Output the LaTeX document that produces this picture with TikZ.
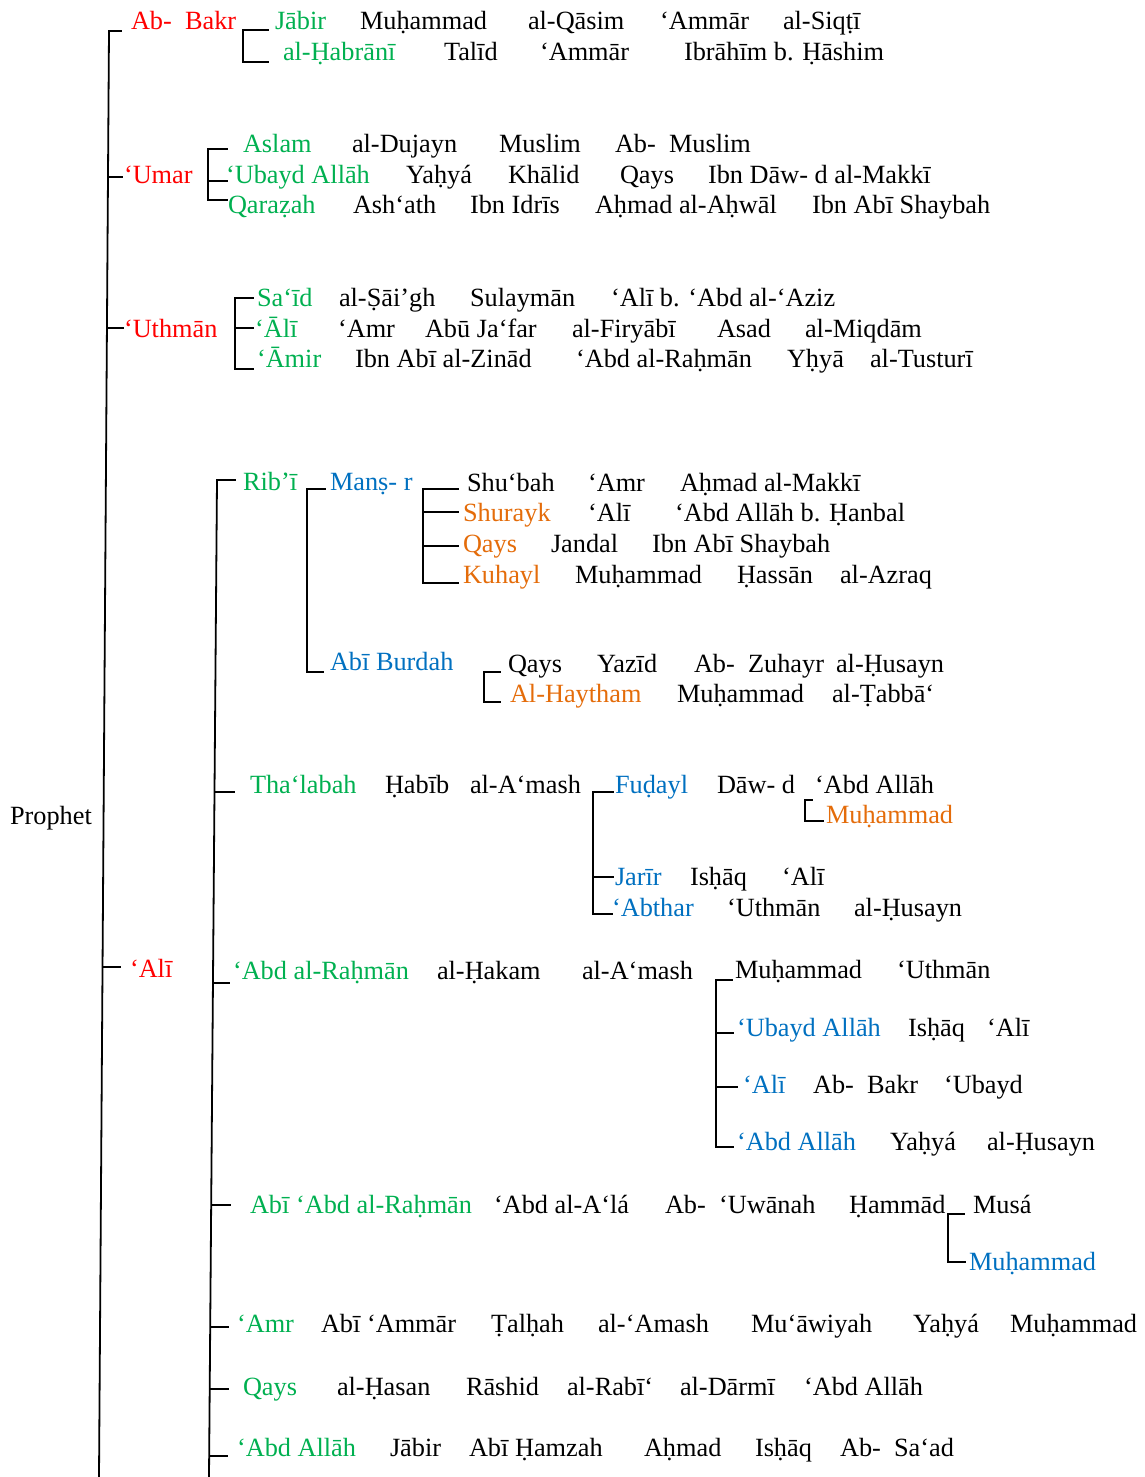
\documentclass[tikz,border=0pt]{standalone}
\usepackage{fontspec}
\setmainfont{Liberation Serif}
\definecolor{cred}{RGB}{255,0,0}
\definecolor{cgreen}{RGB}{0,176,80}
\definecolor{cblue}{RGB}{0,112,192}
\definecolor{corange}{RGB}{228,108,10}
\newcommand\trow[2]{\foreach \px/\lab in {#2}{\node[txt] (n-#1-\px) at (\px,#1) {\lab};}}
\begin{document}
\begin{tikzpicture}[x=1pt,y=-1pt,
  txt/.style={anchor=base west,inner sep=0pt,outer sep=0pt,font=\fontsize{26.3}{30}\selectfont},
  rn/.style={text=cred},
  gn/.style={text=cgreen},
  bn/.style={text=cblue},
  on/.style={text=corange},
  ln/.style={line width=1.8pt,line cap=rect}]
\useasboundingbox (0,0) rectangle (1145,1477);
% main trunk
\coordinate (mtop) at (109,31);
\coordinate (mbot) at (99,1477);
\draw[ln] (mtop) -- (mbot);
\node[txt] (prophet) at (10,824) {Prophet};
% ---------------- Abu Bakr
\draw[ln] (mtop) -- (121,31);
\node[txt,rn] (abubakr) at (131,30) {Ab-\ \ Bakr};
\draw[ln] (268,30) -- (243,30) -- (243,62) -- (268,62);
\node[txt,gn] (jabir) at (275,30) {Jābir};
\trow{30}{360/Muḥammad, 528/al-Qāsim, 660/‘Ammār, 783/al-Siqṭī}
\node[txt,gn] (habrani) at (283,61) {al-Ḥabrānī};
\trow{61}{444/Talīd, 540/‘Ammār, 684/Ibrāhīm b. Ḥāshim}
% ---------------- Umar
\draw[ln] (108,177) -- (122,177);
\node[txt,rn] (umar) at (124,183) {‘Umar};
\draw[ln] (227,149) -- (208,149) -- (208,200) -- (227,200);
\draw[ln] (208,181) -- (227,181);
\node[txt,gn] (aslam) at (243,153) {Aslam};
\trow{153}{352/al-Dujayn, 499/Muslim, 615/Ab-\ \ Muslim}
\node[txt,gn] (ubayd) at (226,183) {‘Ubayd Allāh};
\trow{183}{406/Yaḥyá, 508/Khālid, 620/Qays, 708/Ibn Dāw- d al-Makkī}
\node[txt,gn] (qarazah) at (228,213) {Qaraẓah};
\trow{213}{353/Ash‘ath, 470/Ibn Idrīs, 595/Aḥmad al-Aḥwāl, 812/Ibn Abī Shaybah}
% ---------------- Uthman
\draw[ln] (108,328) -- (123,328);
\node[txt,rn] (uthman) at (124,337) {‘Uthmān};
\draw[ln] (253,298) -- (235,298) -- (235,369) -- (253,369);
\draw[ln] (235,328) -- (253,328);
\node[txt,gn] (said) at (257,306) {Sa‘īd};
\trow{306}{339/al-Ṣāi’gh, 470/Sulaymān, 611/‘Alī b. ‘Abd al-‘Aziz}
\node[txt,gn] (ali2) at (255,337) {‘Ālī};
\trow{337}{338/‘Amr, 425/Abū Ja‘far, 572/al-Firyābī, 717/Asad, 805/al-Miqdām}
\node[txt,gn] (amir) at (257,367) {‘Āmir};
\trow{367}{355/Ibn Abī al-Zinād, 576/‘Abd al-Raḥmān, 787/Yḥyā, 870/al-Tusturī}
% ---------------- Ali
\draw[ln] (102.5,967) -- (120,967);
\node[txt,rn] (ali) at (130,977) {‘Alī};
\coordinate (itop) at (217,480);
\coordinate (ibot) at (209,1477);
\draw[ln] (235,480) -- (itop) -- (ibot);
% Rib'i
\node[txt,gn] (ribi) at (243,490) {Rib’ī};
\draw[ln] (325,489) -- (307,489) -- (307,672) -- (323,672);
\node[txt,bn] (mansur) at (330,490) {Manṣ- r};
\node[txt,bn] (burdah) at (330,670) {Abī Burdah};
\draw[ln] (458,489) -- (423,489) -- (423,583) -- (458,583);
\draw[ln] (423,512) -- (458,512);
\draw[ln] (423,546) -- (458,546);
\trow{491}{467/Shu‘bah, 588/‘Amr, 680/Aḥmad al-Makkī}
\node[txt,on] (shurayk) at (463,521) {Shurayk};
\trow{521}{588/‘Alī, 675/‘Abd Allāh b. Ḥanbal}
\node[txt,on] (qays2) at (463,552) {Qays};
\trow{552}{551/Jandal, 652/Ibn Abī Shaybah}
\node[txt,on] (kuhayl) at (463,583) {Kuhayl};
\trow{583}{575/Muḥammad, 737/Ḥassān, 840/al-Azraq}
\draw[ln] (500,672) -- (484,672) -- (484,702) -- (500,702);
\trow{672}{508/Qays, 597/Yazīd, 694/Ab-\ \ Zuhayr, 836/al-Ḥusayn}
\node[txt,on] (haytham) at (510,702) {Al-Haytham};
\trow{702}{677/Muḥammad, 832/al-Ṭabbā‘}
% Tha'labah
\draw[ln] (216,792) -- (234,792);
\node[txt,gn] (thalabah) at (250,793) {Tha‘labah};
\trow{793}{385/Ḥabīb, 470/al-A‘mash}
\draw[ln] (613,792) -- (593,792) -- (593,914) -- (612,914);
\draw[ln] (593,877) -- (613,877);
\node[txt,bn] (fudayl) at (615,793) {Fuḍayl};
\trow{793}{717/Dāw- d, 815/‘Abd Allāh}
\draw[ln] (812,800) -- (805,800) -- (805,821) -- (823,821);
\node[txt,on] (muh1) at (826,823) {Muḥammad};
\node[txt,bn] (jarir) at (615,885) {Jarīr};
\trow{885}{690/Isḥāq, 782/‘Alī}
\node[txt,bn] (abthar) at (612,916) {‘Abthar};
\trow{916}{727/‘Uthmān, 854/al-Ḥusayn}
% 'Abd al-Rahman
\draw[ln] (214,983) -- (229,983);
\node[txt,gn] (abdrahman) at (233,979) {‘Abd al-Raḥmān};
\trow{979}{437/al-Ḥakam, 582/al-A‘mash}
\draw[ln] (732,980) -- (716,980) -- (716,1147) -- (733,1147);
\draw[ln] (716,1033) -- (733,1033);
\draw[ln] (716,1087) -- (737,1087);
\trow{978}{735/Muḥammad, 897/‘Uthmān}
\node[txt,bn] (ubayd2) at (737,1036) {‘Ubayd Allāh};
\trow{1036}{908/Isḥāq, 987/‘Alī}
\node[txt,bn] (ali3) at (743,1093) {‘Alī};
\trow{1093}{813/Ab-\ \ Bakr, 944/‘Ubayd}
\node[txt,bn] (abdallah2) at (737,1150) {‘Abd Allāh};
\trow{1150}{890/Yaḥyá, 987/al-Ḥusayn}
% Abi 'Abd al-Rahman
\draw[ln] (212,1205) -- (230,1205);
\node[txt,gn] (abiabd) at (250,1213) {Abī ‘Abd al-Raḥmān};
\trow{1213}{494/‘Abd al-A‘lá, 665/Ab-\ \ ‘Uwānah, 849/Ḥammād, 973/Musá}
\draw[ln] (964,1214) -- (948,1214) -- (948,1262) -- (965,1262);
\node[txt,bn] (muh2) at (969,1270) {Muḥammad};
% 'Amr
\draw[ln] (211,1327) -- (228,1327);
\node[txt,gn] (amr) at (237,1332) {‘Amr};
\trow{1332}{321/Abī ‘Ammār, 491/Ṭalḥah, 598/al-‘Amash, 751/Mu‘āwiyah, 913/Yaḥyá, 1010/Muḥammad}
% Qays
\draw[ln] (210,1389) -- (228,1389);
\node[txt,gn] (qays3) at (243,1395) {Qays};
\trow{1395}{337/al-Ḥasan, 466/Rāshid, 567/al-Rabī‘, 680/al-Dārmī, 804/‘Abd Allāh}
% 'Abd Allah
\draw[ln] (210,1456) -- (227,1456);
\node[txt,gn] (abdallah3) at (237,1456) {‘Abd Allāh};
\trow{1456}{390/Jābir, 469/Abī Ḥamzah, 644/Aḥmad, 755/Isḥāq, 840/Ab-\ \ Sa‘ad}
\end{tikzpicture}
\end{document}
